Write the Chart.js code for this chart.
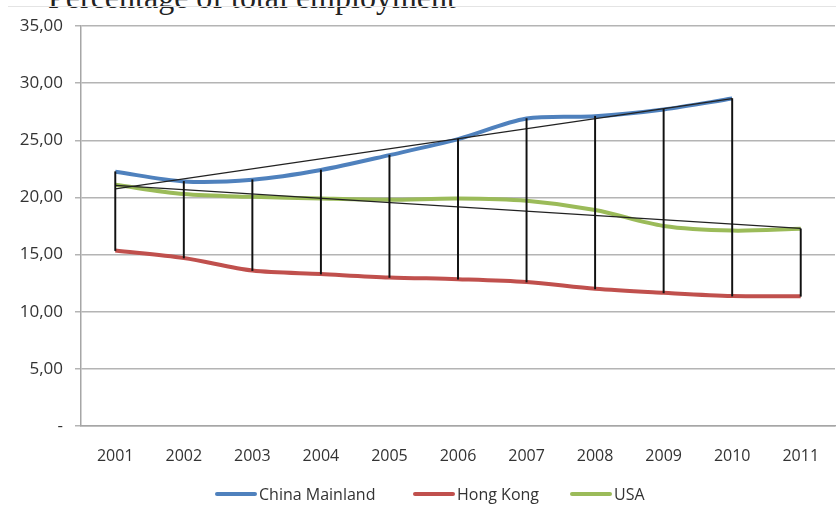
<!DOCTYPE html>
<html>
<head>
<meta charset="utf-8">
<script src="https://cdn.jsdelivr.net/npm/chart.js@4"></script>
<style>
  html, body { margin: 0; padding: 0; background: #fff; overflow: hidden; }
  #wrap { position: relative; width: 836px; height: 514px; }
  #title {
    position: absolute; left: 48px; top: -19px;
    font-family: "Liberation Serif", "DejaVu Serif", serif;
    font-size: 32px; line-height: 32px; color: #222; white-space: nowrap;
  }
  #rule { position: absolute; left: 8px; right: 0; top: 6px; height: 1px; background: #e4e4e4; }
  canvas { position: absolute; left: 0; top: 0; }
  .leg {
    position: absolute; top: 484px; height: 20px; display: flex; align-items: center;
    font-family: "Open Sans", "Liberation Sans", sans-serif; font-size: 16px; color: #333;
    white-space: nowrap;
  }
  .leg i { display: inline-block; width: 42px; height: 4px; margin-right: 2px; border-radius: 2px; }
</style>
</head>
<body>
<div id="wrap">
  <div id="title">Percentage of total employment</div>
  <div id="rule"></div>
  <canvas id="c" width="836" height="514"></canvas>
  <div id="legend"></div>
</div>
<script>
const years = ['2001', '2002', '2003', '2004', '2005', '2006', '2007', '2008', '2009', '2010', '2011'];

const chinaMainland = [22.25, 21.4, 21.55, 22.4, 23.7, 25.1, 26.9, 27.1, 27.7, 28.65, null];
const hongKong      = [15.35, 14.7, 13.6, 13.3, 13.0, 12.85, 12.6, 12.0, 11.65, 11.37, 11.35];
const usa           = [21.1, 20.3, 20.05, 19.9, 19.8, 19.9, 19.7, 18.9, 17.5, 17.1, 17.25];

// thin black trend lines (end points only)
const chinaTrend = [20.75, null, null, null, null, null, null, null, null, 28.65, null];
const usaTrend   = [21.05, null, null, null, null, null, null, null, null, null, 17.3];

const yTicks = [0, 5, 10, 15, 20, 25, 30, 35];

const seriesNames  = ['China Mainland', 'Hong Kong', 'USA'];
const seriesColors = ['#4f81bd', '#c0504d', '#9bbb59'];

// high-low lines from the series values
const dropLines = years.map((y, i) => {
  const vals = [chinaMainland[i], hongKong[i], usa[i]].filter(v => v != null);
  return [Math.min(...vals), Math.max(...vals)];
});

const fontFam = '"Open Sans", "Liberation Sans", sans-serif';

new Chart(document.getElementById('c'), {
  data: {
    labels: years,
    datasets: [
      {
        type: 'bar', label: 'drop', data: dropLines,
        backgroundColor: '#111', barThickness: 1.3, order: 0
      },
      {
        type: 'line', label: seriesNames[0], data: chinaMainland,
        borderColor: seriesColors[0], backgroundColor: seriesColors[0], borderWidth: 4,
        tension: 0.3, pointRadius: 0, order: 2
      },
      {
        type: 'line', label: seriesNames[1], data: hongKong,
        borderColor: seriesColors[1], backgroundColor: seriesColors[1], borderWidth: 4,
        tension: 0.3, pointRadius: 0, order: 2
      },
      {
        type: 'line', label: seriesNames[2], data: usa,
        borderColor: seriesColors[2], backgroundColor: seriesColors[2], borderWidth: 4,
        tension: 0.3, pointRadius: 0, order: 2
      },
      {
        type: 'line', label: 'trendChina', data: chinaTrend, spanGaps: true,
        borderColor: '#222', borderWidth: 1.2, pointRadius: 0, order: 1
      },
      {
        type: 'line', label: 'trendUSA', data: usaTrend, spanGaps: true,
        borderColor: '#222', borderWidth: 1.2, pointRadius: 0, order: 1
      }
    ]
  },
  options: {
    responsive: false,
    animation: false,
    layout: { padding: { top: 26, right: 1, left: 0, bottom: 0 } },
    plugins: {
      tooltip: { enabled: false },
      legend: { display: false }
    },
    scales: {
      x: {
        offset: true,
        afterFit: s => { s.height = 88; s.paddingRight = 0; s.paddingLeft = 0; },
        grid: { display: false, drawTicks: false },
        border: { color: '#a6a6a6', width: 1.5 },
        ticks: { color: '#333', padding: 21, font: { family: fontFam, size: 16 } }
      },
      y: {
        min: 0, max: 35,
        afterBuildTicks: s => { s.ticks = yTicks.map(v => ({ value: v })); },
        afterFit: s => { s.width = 81; },
        grid: { color: '#b4b4b4', lineWidth: 1.5, tickLength: 6 },
        border: { color: '#a6a6a6', width: 1.5 },
        ticks: {
          color: '#333', padding: 12, font: { family: fontFam, size: 17 },
          callback: v => v === 0 ? '-' : v.toFixed(2).replace('.', ',')
        }
      }
    }
  }
});

// legend below the plot
const legendLeft = [215, 413, 570];
document.getElementById('legend').innerHTML = seriesNames.map((n, i) =>
  `<div class="leg" style="left:${legendLeft[i]}px"><i style="background:${seriesColors[i]}"></i>${n}</div>`
).join('');
</script>
</body>
</html>
